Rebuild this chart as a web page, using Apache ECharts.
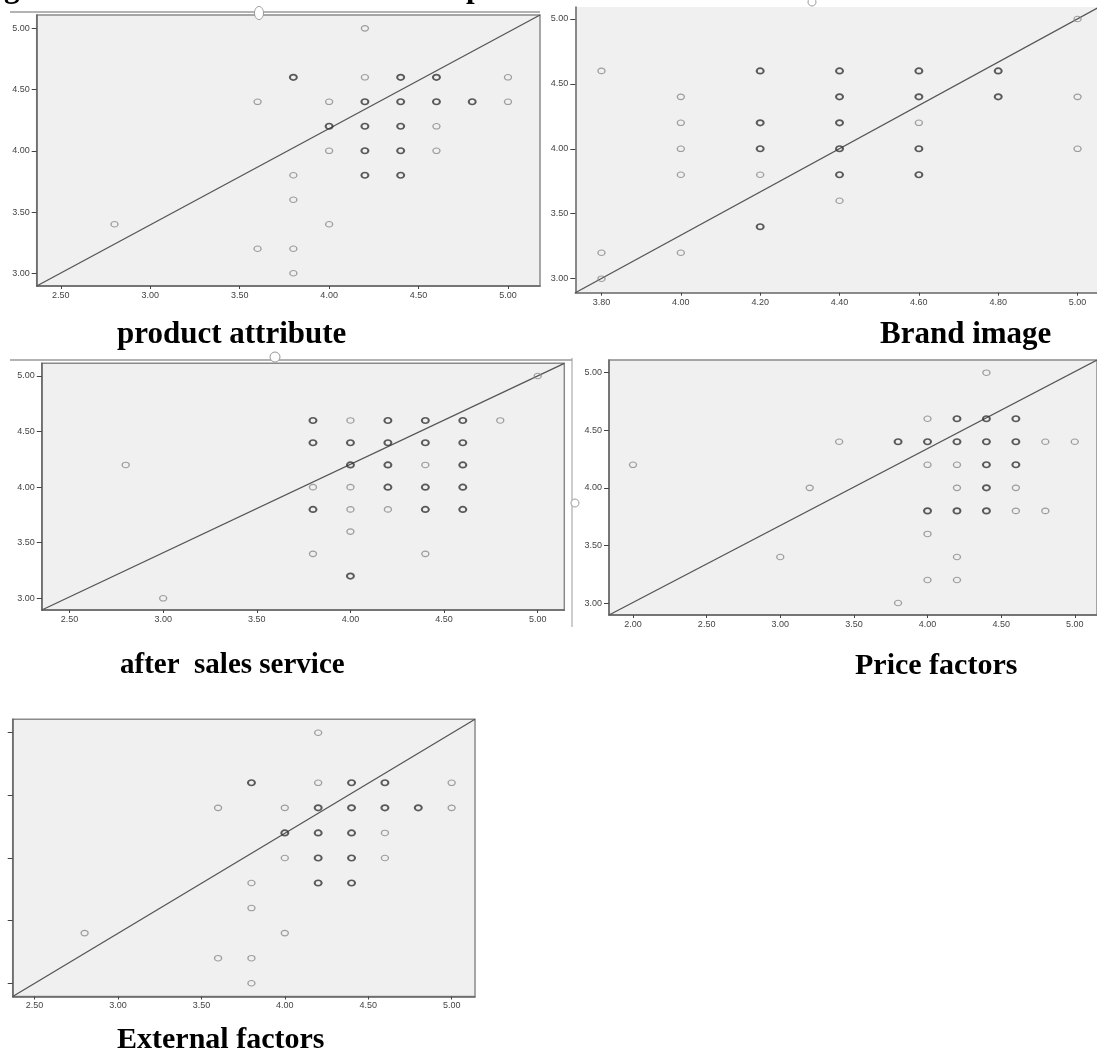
<!DOCTYPE html>
<html>
<head>
<meta charset="utf-8">
<script src="https://cdn.jsdelivr.net/npm/echarts@6/dist/echarts.min.js"></script>
<style>
html,body{margin:0;padding:0;background:#fff;}
#chart{width:1097px;height:1055px;}
</style>
</head>
<body>
<div id="chart"></div>
<script>
// ---------- data ----------
const panelTitles = ['product attribute', 'Brand image', 'after  sales service', 'Price factors', 'External factors'];

const xTicks = [2.5, 3.0, 3.5, 4.0, 4.5, 5.0];
const yTicks = [3.0, 3.5, 4.0, 4.5, 5.0];
const brandXTicks = [3.8, 4.0, 4.2, 4.4, 4.6, 4.8, 5.0];
const priceXTicks = [2.0, 2.5, 3.0, 3.5, 4.0, 4.5, 5.0];

// product attribute: single (light) and overlapping (dark) points
const productSingle = [[4.2,5.0],[4.2,4.6],[5.0,4.6],[3.6,4.4],[4.0,4.4],[5.0,4.4],[4.6,4.2],[4.0,4.0],[4.6,4.0],[3.8,3.8],[3.8,3.6],[2.8,3.4],[4.0,3.4],[3.6,3.2],[3.8,3.2],[3.8,3.0]];
const productMulti = [[3.8,4.6],[4.4,4.6],[4.6,4.6],[4.2,4.4],[4.4,4.4],[4.6,4.4],[4.8,4.4],[4.0,4.2],[4.2,4.2],[4.4,4.2],[4.2,4.0],[4.4,4.0],[4.2,3.8],[4.4,3.8]];

// brand image
const brandSingle = [[5.0,5.0],[3.8,4.6],[4.0,4.4],[5.0,4.4],[4.0,4.2],[4.6,4.2],[4.0,4.0],[5.0,4.0],[4.0,3.8],[4.2,3.8],[4.4,3.6],[3.8,3.2],[4.0,3.2],[3.8,3.0]];
const brandMulti = [[4.2,4.6],[4.4,4.6],[4.6,4.6],[4.8,4.6],[4.4,4.4],[4.6,4.4],[4.8,4.4],[4.2,4.2],[4.4,4.2],[4.2,4.0],[4.4,4.0],[4.6,4.0],[4.4,3.8],[4.6,3.8],[4.2,3.4]];

// after sales service
const serviceSingle = [[5.0,5.0],[4.0,4.6],[4.8,4.6],[2.8,4.2],[4.4,4.2],[3.8,4.0],[4.0,4.0],[4.0,3.8],[4.2,3.8],[4.0,3.6],[3.8,3.4],[4.4,3.4],[3.0,3.0]];
const serviceMulti = [[3.8,4.6],[4.2,4.6],[4.4,4.6],[4.6,4.6],[3.8,4.4],[4.0,4.4],[4.2,4.4],[4.4,4.4],[4.6,4.4],[4.0,4.2],[4.2,4.2],[4.6,4.2],[4.2,4.0],[4.4,4.0],[4.6,4.0],[3.8,3.8],[4.4,3.8],[4.6,3.8],[4.0,3.2]];

// price factors
const priceSingle = [[4.4,5.0],[4.0,4.6],[3.4,4.4],[4.8,4.4],[5.0,4.4],[2.0,4.2],[4.0,4.2],[4.2,4.2],[3.2,4.0],[4.2,4.0],[4.6,4.0],[4.6,3.8],[4.8,3.8],[4.0,3.6],[3.0,3.4],[4.2,3.4],[4.0,3.2],[4.2,3.2],[3.8,3.0]];
const priceMulti = [[4.2,4.6],[4.4,4.6],[4.6,4.6],[3.8,4.4],[4.0,4.4],[4.2,4.4],[4.4,4.4],[4.6,4.4],[4.4,4.2],[4.6,4.2],[4.4,4.0],[4.0,3.8],[4.2,3.8],[4.4,3.8]];

// external factors
const externalSingle = [[4.2,5.0],[4.2,4.6],[5.0,4.6],[3.6,4.4],[4.0,4.4],[5.0,4.4],[4.6,4.2],[4.0,4.0],[4.6,4.0],[3.8,3.8],[3.8,3.6],[2.8,3.4],[4.0,3.4],[3.6,3.2],[3.8,3.2],[3.8,3.0]];
const externalMulti = [[3.8,4.6],[4.4,4.6],[4.6,4.6],[4.2,4.4],[4.4,4.4],[4.6,4.4],[4.8,4.4],[4.0,4.2],[4.2,4.2],[4.4,4.2],[4.2,4.0],[4.4,4.0],[4.2,3.8],[4.4,3.8]];

// axis ranges and reference lines
const xRanges = [[2.365,5.179],[3.734,5.049],[2.352,5.142],[1.837,5.151],[2.369,5.140]];
const yRanges = [[2.896,5.109],[2.892,5.092],[2.895,5.114],[2.896,5.110],[2.894,5.107]];
const refLines = [
  [[2.365,2.896],[5.179,5.109]],
  [[3.734,2.892],[5.055,5.092]],
  [[2.352,2.895],[5.142,5.114]],
  [[1.837,2.896],[5.151,5.110]],
  [[2.369,2.894],[5.140,5.107]]
];

// ---------- layout ----------
const grids = [
  {left:36.7, top:15, width:503.3, height:271},
  {left:575.3, top:7, width:521.7, height:285.7},
  {left:41.8, top:363.3, width:522.5, height:246.7},
  {left:609, top:360, width:488, height:255},
  {left:12.7, top:719.3, width:462.3, height:277.2}
];
const gridBorders = [1.5, 0, 1.5, 1.5, 1.5];
const xTickSets = [xTicks, brandXTicks, xTicks, priceXTicks, xTicks];
const singles = [productSingle, brandSingle, serviceSingle, priceSingle, externalSingle];
const multis = [productMulti, brandMulti, serviceMulti, priceMulti, externalMulti];

const fmt = v => Number(v).toFixed(2);
const labelFont = {fontFamily:'Liberation Sans, Arial, sans-serif', fontSize:9, color:'#444'};

const option = {
  animation:false,
  backgroundColor:'#fff',
  grid: grids.map((g,i) => Object.assign({show:true, backgroundColor:'#f0f0f0', borderColor:'#8a8a8a', borderWidth:gridBorders[i], containLabel:false}, g)),
  xAxis: grids.map((g,i) => ({
    gridIndex:i, type:'value', min:xRanges[i][0], max:xRanges[i][1],
    axisLine:{show:true, onZero:false, lineStyle:{color:'#666', width:1.5}},
    axisTick:{show:true, customValues:xTickSets[i], length:3, lineStyle:{color:'#444', width:1}},
    axisLabel:Object.assign({customValues:xTickSets[i], formatter:fmt, margin:5}, labelFont),
    splitLine:{show:false}
  })),
  yAxis: grids.map((g,i) => ({
    gridIndex:i, type:'value', min:yRanges[i][0], max:yRanges[i][1],
    axisLine:{show:true, onZero:false, lineStyle:{color:'#666', width:1.5}},
    axisTick:{show:true, customValues:yTicks, length:5, lineStyle:{color:'#444', width:1}},
    axisLabel:Object.assign({show:i!==4, customValues:yTicks, formatter:fmt, margin:7}, labelFont),
    splitLine:{show:false}
  })),
  series: []
};

grids.forEach((g,i) => {
  option.series.push({
    type:'line', xAxisIndex:i, yAxisIndex:i, data:refLines[i], symbol:'none', clip:true, silent:true,
    lineStyle:{color:'#555', width:1.3}, z:3
  });
  option.series.push({
    type:'scatter', xAxisIndex:i, yAxisIndex:i, data:singles[i], symbol:'circle', symbolSize:[7,5.5], silent:true,
    itemStyle:{color:'rgba(0,0,0,0)', borderColor:'#888', borderWidth:1.2}, z:4
  });
  option.series.push({
    type:'scatter', xAxisIndex:i, yAxisIndex:i, data:multis[i], symbol:'circle', symbolSize:[7,5.5], silent:true,
    itemStyle:{color:'rgba(0,0,0,0)', borderColor:'#333', borderWidth:1.8}, z:5
  });
});

const serif = 'Liberation Serif, Times New Roman, serif';
const titleSizes = [31, 31, 29, 30, 30];
const titlePos = [[117,335],[880,335],[120,666],[855,666],[117,1040]];
option.graphic = [
  // frame decorations from the pasted images
  {type:'line', shape:{x1:10,y1:12,x2:540,y2:12}, style:{stroke:'#9a9a9a', lineWidth:1.5}, z:0},
  {type:'line', shape:{x1:10,y1:360,x2:572,y2:360}, style:{stroke:'#9a9a9a', lineWidth:1.5}, z:0},
  {type:'line', shape:{x1:572,y1:358,x2:572,y2:627}, style:{stroke:'#9a9a9a', lineWidth:1}, z:0},
  {type:'ellipse', shape:{cx:259,cy:13,rx:4.5,ry:6.5}, style:{fill:'#fff', stroke:'#999', lineWidth:1}, z:10},
  {type:'ellipse', shape:{cx:275,cy:357,rx:5,ry:5}, style:{fill:'#fff', stroke:'#999', lineWidth:1}, z:10},
  {type:'ellipse', shape:{cx:812,cy:2,rx:4,ry:4}, style:{fill:'#fff', stroke:'#999', lineWidth:1}, z:10},
  {type:'ellipse', shape:{cx:575,cy:503,rx:4,ry:4}, style:{fill:'#fff', stroke:'#999', lineWidth:1}, z:10},
  // descenders of the cropped caption line above the figure
  {type:'text', x:4, y:-27, style:{text:'g', font:'bold 31px ' + serif, fill:'#000'}, z:10},
  {type:'text', x:466, y:-27, style:{text:'p', font:'bold 31px ' + serif, fill:'#000'}, z:10}
].concat(panelTitles.map((t,i) => ({
  type:'text', x:titlePos[i][0], y:titlePos[i][1],
  style:{text:t, verticalAlign:'middle', font:'bold ' + titleSizes[i] + 'px ' + serif, fill:'#000'}, z:10
})));

const chart = echarts.init(document.getElementById('chart'), null, {renderer:'canvas'});
chart.setOption(option);
</script>
</body>
</html>
